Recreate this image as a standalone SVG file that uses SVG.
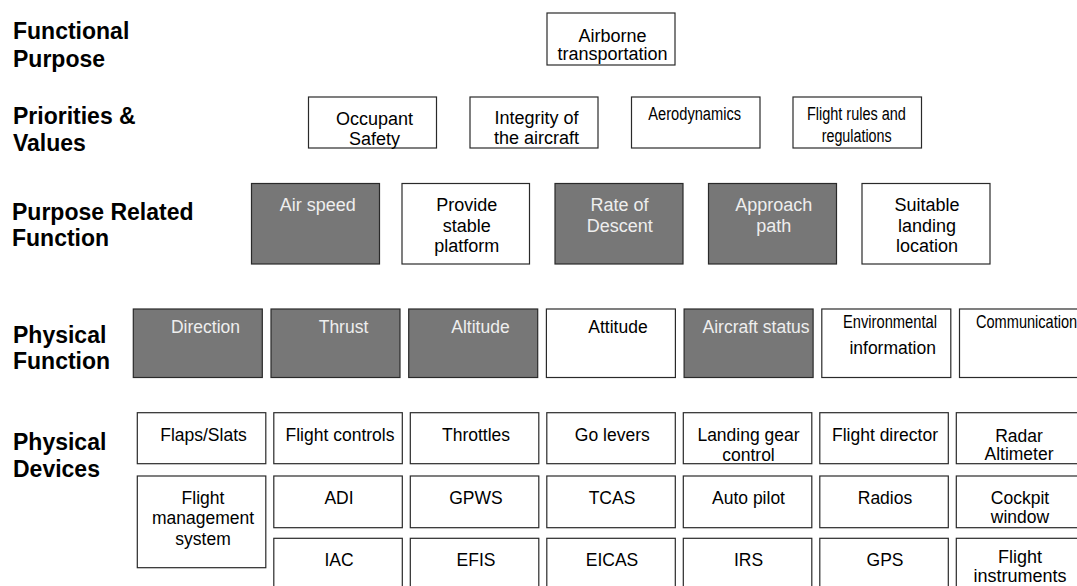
<svg xmlns="http://www.w3.org/2000/svg" width="1077" height="586" viewBox="0 0 1077 586">
<style>
.lbl{font-family:"Liberation Sans",Arial,sans-serif;font-weight:bold;font-size:23px;fill:#000}
.b{fill:#fff;stroke:#2a2a2a;stroke-width:1.2}
.d{fill:#777;stroke:#2a2a2a;stroke-width:1.2}
.t{font-family:"Liberation Sans",Arial,sans-serif;font-size:18px;fill:#000;text-anchor:middle}
.s{font-size:17.5px}
.w{fill:#eeeeee}
</style>
<rect width="1077" height="586" fill="#fff"/>
<g id="labels">
<text class="lbl" x="13" y="39">Functional</text>
<text class="lbl" x="13" y="66.5">Purpose</text>
<text class="lbl" x="13" y="124">Priorities &amp;</text>
<text class="lbl" x="13" y="151">Values</text>
<text class="lbl" x="12" y="219.5">Purpose Related</text>
<text class="lbl" x="12" y="246">Function</text>
<text class="lbl" x="13" y="342.5">Physical</text>
<text class="lbl" x="13" y="369">Function</text>
<text class="lbl" x="13" y="449.5">Physical</text>
<text class="lbl" x="13" y="476.5">Devices</text>
</g>
<g id="connectors"/>
<g id="n-airborne"><rect class="b" x="547" y="13" width="128" height="52"/><text class="t" x="612.5" y="42">Airborne</text><text class="t" x="612.5" y="60">transportation</text></g>
<g id="n-occupant"><rect class="b" x="308.5" y="97" width="128" height="51"/><text class="t" x="374.5" y="124.5">Occupant</text><text class="t" x="374.5" y="144.5">Safety</text></g>
<g id="n-integrity"><rect class="b" x="470" y="97" width="128" height="51"/><text class="t" x="536.5" y="124">Integrity of</text><text class="t" x="536.5" y="144">the aircraft</text></g>
<g id="n-aero"><rect class="b" x="631.5" y="97" width="128.5" height="51"/><text class="t" x="694.7" y="120" font-size="17" textLength="92.7" lengthAdjust="spacingAndGlyphs">Aerodynamics</text></g>
<g id="n-rules"><rect class="b" x="793" y="97" width="128.5" height="51"/><text class="t" x="856.4" y="120" font-size="17" textLength="99" lengthAdjust="spacingAndGlyphs">Flight rules and</text><text class="t" x="856.7" y="141.5" font-size="17" textLength="70" lengthAdjust="spacingAndGlyphs">regulations</text></g>
<g id="n-airspeed"><rect class="d" x="251.5" y="183.5" width="128" height="80.5"/><text class="t w" x="317.7" y="210.5">Air speed</text></g>
<g id="n-stable"><rect class="b" x="402" y="183.5" width="127.5" height="80.5"/><text class="t" x="466.7" y="210.5">Provide</text><text class="t" x="466.7" y="231.5">stable</text><text class="t" x="466.7" y="252">platform</text></g>
<g id="n-descent"><rect class="d" x="555" y="183.5" width="128" height="80.5"/><text class="t w" x="619.5" y="210.5">Rate of</text><text class="t w" x="619.8" y="231.5">Descent</text></g>
<g id="n-approach"><rect class="d" x="708.5" y="183.5" width="128" height="80.5"/><text class="t w" x="773.8" y="210.5">Approach</text><text class="t w" x="773.8" y="231.5">path</text></g>
<g id="n-landing"><rect class="b" x="862" y="183.5" width="128" height="80.5"/><text class="t" x="927" y="210.5">Suitable</text><text class="t" x="927" y="231.5">landing</text><text class="t" x="927" y="252">location</text></g>
<g id="n-direction"><rect class="d" x="133.3" y="309" width="129" height="68.5"/><text class="t s w" x="205.5" y="332.5">Direction</text></g>
<g id="n-thrust"><rect class="d" x="271" y="309" width="129" height="68.5"/><text class="t s w" x="343.5" y="332.5">Thrust</text></g>
<g id="n-altitude"><rect class="d" x="408.7" y="309" width="129" height="68.5"/><text class="t s w" x="480.5" y="332.5">Altitude</text></g>
<g id="n-attitude"><rect class="b" x="546.4" y="309" width="129" height="68.5"/><text class="t s" x="618" y="332.5">Attitude</text></g>
<g id="n-status"><rect class="d" x="684.1" y="309" width="129" height="68.5"/><text class="t s w" x="756" y="332.5">Aircraft status</text></g>
<g id="n-env"><rect class="b" x="821.8" y="309" width="129" height="68.5"/><text class="t" x="890" y="328" font-size="17" textLength="94" lengthAdjust="spacingAndGlyphs">Environmental</text><text class="t s" x="892.7" y="354">information</text></g>
<g id="n-comm"><rect class="b" x="959.5" y="309" width="129" height="68.5"/><text class="t" transform="translate(976 328) scale(0.81 1)" x="0" y="0" font-size="17" style="text-anchor:start">Communication</text></g>
<g id="n-flaps"><rect class="b" x="137.3" y="412.7" width="128.5" height="51"/><text class="t s" x="203.5" y="440.5">Flaps/Slats</text></g>
<g id="n-fctl"><rect class="b" x="273.8" y="412.7" width="128.5" height="51"/><text class="t s" x="340" y="440.5">Flight controls</text></g>
<g id="n-throttles"><rect class="b" x="410.3" y="412.7" width="128.5" height="51"/><text class="t s" x="476" y="440.5">Throttles</text></g>
<g id="n-golevers"><rect class="b" x="546.8" y="412.7" width="128.5" height="51"/><text class="t s" x="612.3" y="440.5">Go levers</text></g>
<g id="n-gear"><rect class="b" x="683.3" y="412.7" width="128.5" height="51"/><text class="t s" x="748.5" y="441">Landing gear</text><text class="t s" x="748.5" y="460.5">control</text></g>
<g id="n-fd"><rect class="b" x="819.8" y="412.7" width="128.5" height="51"/><text class="t s" x="885" y="440.5">Flight director</text></g>
<g id="n-radar"><rect class="b" x="956.3" y="412.7" width="128.5" height="51"/><text class="t s" x="1019" y="441.5">Radar</text><text class="t s" x="1019" y="459.5">Altimeter</text></g>
<g id="n-fms"><rect class="b" x="137.3" y="476" width="128.5" height="91.7"/><text class="t s" x="203" y="504">Flight</text><text class="t s" x="203" y="524">management</text><text class="t s" x="203" y="545">system</text></g>
<g id="n-adi"><rect class="b" x="273.8" y="476" width="128.5" height="51.7"/><text class="t s" x="339" y="504">ADI</text></g>
<g id="n-gpws"><rect class="b" x="410.3" y="476" width="128.5" height="51.7"/><text class="t s" x="476" y="504">GPWS</text></g>
<g id="n-tcas"><rect class="b" x="546.8" y="476" width="128.5" height="51.7"/><text class="t s" x="612" y="504">TCAS</text></g>
<g id="n-autopilot"><rect class="b" x="683.3" y="476" width="128.5" height="51.7"/><text class="t s" x="748.5" y="504">Auto pilot</text></g>
<g id="n-radios"><rect class="b" x="819.8" y="476" width="128.5" height="51.7"/><text class="t s" x="885" y="504">Radios</text></g>
<g id="n-cockpit"><rect class="b" x="956.3" y="476" width="128.5" height="51.7"/><text class="t s" x="1020" y="503.5">Cockpit</text><text class="t s" x="1020" y="522.5">window</text></g>
<g id="n-iac"><rect class="b" x="273.8" y="538.3" width="128.5" height="60"/><text class="t s" x="339" y="566">IAC</text></g>
<g id="n-efis"><rect class="b" x="410.3" y="538.3" width="128.5" height="60"/><text class="t s" x="476" y="566">EFIS</text></g>
<g id="n-eicas"><rect class="b" x="546.8" y="538.3" width="128.5" height="60"/><text class="t s" x="612" y="566">EICAS</text></g>
<g id="n-irs"><rect class="b" x="683.3" y="538.3" width="128.5" height="60"/><text class="t s" x="748.5" y="566">IRS</text></g>
<g id="n-gps"><rect class="b" x="819.8" y="538.3" width="128.5" height="60"/><text class="t s" x="885" y="566">GPS</text></g>
<g id="n-finstr"><rect class="b" x="956.3" y="538.3" width="128.5" height="60"/><text class="t" x="1020" y="562.5" font-size="17">Flight</text><text class="t" x="1020" y="582" font-size="17">instruments</text></g>
</svg>
